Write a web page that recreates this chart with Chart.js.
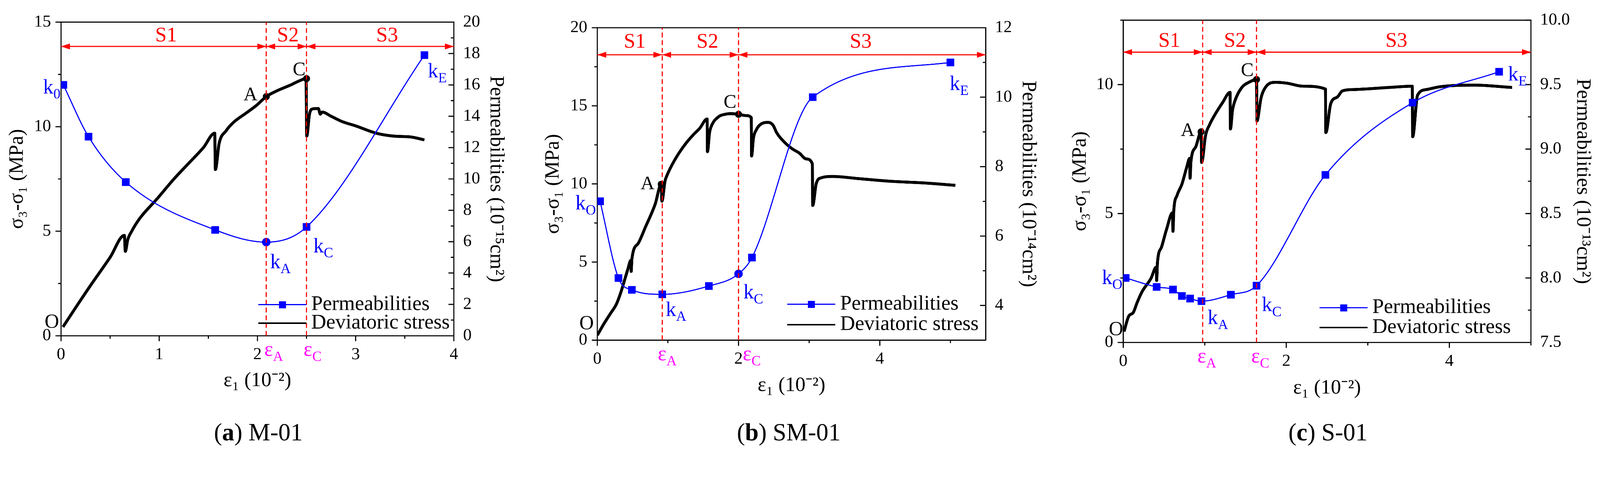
<!DOCTYPE html>
<html>
<head>
<meta charset="utf-8">
<title>Deviatoric stress and permeability</title>
<script src="https://cdn.jsdelivr.net/npm/chart.js@4.4.1/dist/chart.umd.min.js"></script>
<style>
  html, body { margin: 0; padding: 0; background: #fff; overflow: hidden; }
  #page { position: absolute; left: 0; top: 0; width: 4329px; height: 1236px; transform-origin: 0 0; }
  canvas { position: absolute; top: 0; }
  .cap { position: absolute; top: 1134px; width: 600px; text-align: center; color: #000;
         font: 66px "Liberation Serif", "Times New Roman", serif; line-height: 70px; }
</style>
</head>
<body>
<div id="page">
<canvas id="ca" width="1440" height="1236" style="left:0px"></canvas>
<canvas id="cb" width="1440" height="1236" style="left:1440px"></canvas>
<canvas id="cc" width="1449" height="1236" style="left:2880px"></canvas>
<div class="cap" style="left:399px">(<b>a</b>) M-01</div>
<div class="cap" style="left:1834px">(<b>b</b>) SM-01</div>
<div class="cap" style="left:3293px">(<b>c</b>) S-01</div>
</div>
<script>
const FONT = '"Liberation Serif", "Times New Roman", serif';
const BLUE = '#0000ff', RED = '#ff0000', MAGENTA = '#ff00ff';
Chart.defaults.font.family = FONT;
Chart.defaults.color = '#000';

// fit the 4329 x 1236 page into whatever viewport we get
const fit = Math.min(window.innerWidth / 4329, window.innerHeight / 1236);
document.getElementById('page').style.transform = 'scale(' + fit + ')';

// ---- (a) M-01 : strain (10^-2), permeability (10^-15 cm2), deviatoric stress (MPa)
const permStrainA = [0.024, 0.28, 0.66, 1.57, 2.09, 2.50, 3.70];
const permValueA = [16.0, 12.7, 9.8, 6.75, 5.97, 6.94, 17.9];
const stressA = [[0.02,0.42],[0.15,1.35],[0.3,2.4],[0.5,3.75],[0.645,4.8],[0.655,4.04],[0.68,4.6],
  [0.72,5.0],[0.8,5.6],[0.98,6.56],[1.15,7.5],[1.3,8.25],[1.45,9.0],[1.565,9.69],[1.572,7.95],
  [1.61,9.2],[1.68,9.8],[1.75,10.18],[1.89,10.67],[1.99,11.02],[2.09,11.44],[2.2,11.72],[2.34,12.0],
  [2.42,12.18],[2.495,12.3],[2.502,9.55],[2.53,10.6],[2.56,10.85],[2.62,10.87],[2.64,10.6],
  [2.66,10.7],[2.75,10.5],[2.86,10.25],[3.0,10.04],[3.21,9.69],[3.39,9.55],[3.56,9.51],[3.70,9.37]];
const peakA = [[2.09, 11.44], [2.50, 12.3]];
const stageA = [2.09, 2.50];

// ---- (b) SM-01 : permeability (10^-14 cm2)
const permStrainB = [0.04, 0.30, 0.49, 0.92, 1.58, 2.0, 2.19, 3.05, 5.0];
const permValueB = [7.0, 4.79, 4.45, 4.32, 4.56, 4.91, 5.38, 10.0, 11.0];
const stressB = [[0,0.31],[0.09,1.02],[0.19,1.73],[0.27,2.3],[0.335,3.08],[0.39,3.9],[0.43,4.5],
  [0.475,5.1],[0.48,4.4],[0.49,5.2],[0.58,6.2],[0.68,7.22],[0.82,8.71],[0.905,9.98],[0.915,8.9],
  [0.96,10.2],[0.99,10.58],[1.07,11.32],[1.16,12.0],[1.26,12.63],[1.36,13.15],[1.45,13.56],
  [1.555,14.16],[1.56,12.07],[1.59,13.3],[1.62,13.75],[1.72,14.31],[1.8,14.45],[1.89,14.5],
  [2.0,14.46],[2.1,14.38],[2.18,14.25],[2.185,11.79],[2.21,12.9],[2.25,13.45],[2.32,13.84],
  [2.42,13.94],[2.49,13.75],[2.54,13.28],[2.66,12.63],[2.76,12.25],[2.86,11.98],[2.96,11.6],
  [3.045,11.29],[3.05,8.62],[3.1,10.02],[3.17,10.39],[3.34,10.48],[3.68,10.35],[4.16,10.17],
  [4.65,10.06],[5.07,9.91]];
const peakB = [[0.905, 9.98], [2.0, 14.46]];
const stageB = [0.92, 2.0];

// ---- (c) S-01 : permeability (10^-13 cm2)
const permStrainC = [0.03, 0.41, 0.61, 0.72, 0.82, 0.96, 1.32, 1.635, 2.48, 3.55, 4.61];
const permValueC = [8.0, 7.93, 7.91, 7.86, 7.84, 7.82, 7.87, 7.94, 8.80, 9.36, 9.60];
const stressC = [[0.01,0.42],[0.065,1.0],[0.125,1.17],[0.17,1.54],[0.23,1.96],[0.34,2.48],
  [0.405,2.92],[0.41,2.4],[0.42,3.1],[0.47,3.7],[0.53,4.37],[0.605,5.03],[0.61,4.31],[0.62,5.1],
  [0.66,5.7],[0.72,6.14],[0.78,6.81],[0.815,7.14],[0.82,6.37],[0.83,7.0],[0.89,7.59],[0.955,8.17],
  [0.962,6.98],[1.01,8.03],[1.06,8.45],[1.12,8.81],[1.22,9.31],[1.31,9.7],[1.315,8.28],[1.34,9.0],
  [1.37,9.37],[1.45,9.87],[1.56,10.12],[1.635,10.2],[1.64,8.59],[1.69,9.48],[1.75,9.92],[1.87,10.09],
  [2.0,10.06],[2.21,9.94],[2.48,9.83],[2.485,8.14],[2.545,9.26],[2.63,9.53],[2.69,9.76],[2.84,9.81],
  [3.26,9.89],[3.545,9.94],[3.55,7.98],[3.61,9.59],[3.72,9.81],[3.89,9.92],[4.31,9.98],[4.77,9.89]];
const peakC = [[0.955, 8.17], [1.635, 10.2]];
const stageC = [0.975, 1.635];

const panels = [
  { id: 'ca', W: 1440, area: { left: 165, right: 1228, top: 60, bottom: 908 },
    x: { max: 4, step: 1, minor: 0.5 }, y: { max: 15, step: 5, minor: 2.5 },
    y1: { min: 0, max: 20, step: 2, minor: 1, dec: 0, exp: '⁻¹⁵' },
    pad: { left: 14, right: 65, bottom: 173 },
    permX: permStrainA, permK: permValueA, stress: stressA, peaks: peakA, stage: stageA, circle: 4,
    arrowY: 13.84, sY: 14.34, sX: [1.07, 2.31, 3.32], epsX: [2.07, 2.47],
    notes: [['k','0',-0.005,11.85,'right',BLUE,56], ['A','',2.0,11.5,'right','#000',52],
            ['C','',2.49,12.7,'right','#000',52], ['k','A',2.13,3.49,'left',BLUE,56],
            ['k','C',2.57,4.25,'left',BLUE,56], ['k','E',3.735,12.62,'left',BLUE,56],
            ['O','',-0.02,0.63,'right','#000',54]],
    legend: { dx: 529, r1: 84, r2: 34 } },
  { id: 'cb', W: 1440, area: { left: 176, right: 1227, top: 75, bottom: 920 },
    x: { max: 5.5, step: 2, minor: 1 }, y: { max: 20, step: 5, minor: 2.5 },
    y1: { min: 3, max: 12, step: 2, minor: 1, dec: 0, exp: '⁻¹⁴' },
    pad: { left: 24, right: 65, bottom: 160 },
    permX: permStrainB, permK: permValueB, stress: stressB, peaks: peakB, stage: stageB, circle: 5,
    arrowY: 18.27, sY: 19.07, sX: [0.53, 1.56, 3.73], epsX: [0.857, 2.06],
    notes: [['k','O',-0.02,8.71,'right',BLUE,56], ['A','',0.81,9.98,'right','#000',52],
            ['C','',1.97,15.2,'right','#000',52], ['k','A',0.97,1.9,'left',BLUE,56],
            ['k','C',2.07,3.02,'left',BLUE,56], ['k','E',4.99,16.36,'left',BLUE,56],
            ['O','',-0.05,1.03,'right','#000',54]],
    legend: { dx: 537, r1: 97, r2: 42 } },
  { id: 'cc', W: 1449, area: { left: 159, right: 1262, top: 38, bottom: 926 },
    x: { max: 5, step: 2, minor: 1 }, y: { max: 12.5, step: 5, minor: 2.5 },
    y1: { min: 7.5, max: 10, step: 0.5, minor: 0.25, dec: 1, exp: '⁻¹³' },
    pad: { left: 10, right: 14, bottom: 153 },
    permX: permStrainC, permK: permValueC, stress: stressC, peaks: peakC, stage: stageC, circle: -1,
    arrowY: 11.26, sY: 11.68, sX: [0.566, 1.37, 3.35], epsX: [0.91, 1.57],
    notes: [['k','O',-0.01,2.48,'right',BLUE,56], ['A','',0.876,8.2,'right','#000',52],
            ['C','',1.6,10.53,'right','#000',52], ['k','A',1.035,0.92,'left',BLUE,56],
            ['k','C',1.70,1.42,'left',BLUE,56], ['k','E',4.72,10.37,'left',BLUE,56],
            ['O','',0.0,0.48,'right','#000',54]],
    legend: { dx: 572, r1: 94, r2: 40 } }
];

const H = 1236;
const pairs = arr => arr.map(([x, y]) => ({ x, y }));
const zip = (xs, ys) => xs.map((x, i) => ({ x, y: ys[i] }));

// text with a subscript, y is the middle of the main glyphs
function subText(ctx, base, sub, x, y, size, color, align) {
  ctx.save();
  ctx.fillStyle = color;
  ctx.textBaseline = 'middle';
  ctx.textAlign = 'left';
  const small = Math.round(size * 0.68);
  ctx.font = size + 'px ' + FONT;
  const w1 = ctx.measureText(base).width;
  ctx.font = small + 'px ' + FONT;
  const w2 = sub ? ctx.measureText(sub).width : 0;
  let x0 = x;
  if (align === 'right') x0 = x - w1 - w2;
  if (align === 'center') x0 = x - (w1 + w2) / 2;
  ctx.font = size + 'px ' + FONT;
  ctx.fillText(base, x0, y);
  if (sub) {
    ctx.font = small + 'px ' + FONT;
    ctx.fillText(sub, x0 + w1, y + size * 0.32);
  }
  ctx.restore();
}

function tickMarks(ctx, scale, minor, side, ca) {
  const major = scale.ticks.map(t => t.value);
  ctx.beginPath();
  for (let i = 0; ; i++) {
    const v = +(scale.min + i * minor).toFixed(6);
    if (v > scale.max + 1e-9) break;
    const len = major.some(m => Math.abs(m - v) < 1e-6) ? 15 : 8;
    const p = scale.getPixelForValue(v);
    if (side === 'bottom') { ctx.moveTo(p, ca.bottom); ctx.lineTo(p, ca.bottom + len); }
    else if (side === 'left') { ctx.moveTo(ca.left, p); ctx.lineTo(ca.left - len, p); }
    else { ctx.moveTo(ca.right, p); ctx.lineTo(ca.right - len, p); }
  }
  ctx.stroke();
}

function head(ctx, x, y, dir) {
  ctx.beginPath();
  ctx.moveTo(x, y);
  ctx.lineTo(x - dir * 24, y - 8);
  ctx.lineTo(x - dir * 24, y + 8);
  ctx.closePath();
  ctx.fill();
}

const decor = {
  id: 'decor',
  afterDatasetsDraw(chart, args, o) {
    const p = o.panel;
    const ctx = chart.ctx, ca = chart.chartArea;
    const sx = chart.scales.x, sy = chart.scales.y, sr = chart.scales.y1;
    ctx.save();
    ctx.strokeStyle = '#000';
    ctx.lineWidth = 3;
    ctx.beginPath(); ctx.moveTo(ca.left - 1.5, ca.top); ctx.lineTo(ca.right + 1.5, ca.top); ctx.stroke();
    tickMarks(ctx, sx, p.x.minor, 'bottom', ca);
    tickMarks(ctx, sy, p.y.minor, 'left', ca);
    tickMarks(ctx, sr, p.y1.minor, 'right', ca);

    // stage boundaries
    const xs = p.stage.map(v => sx.getPixelForValue(v));
    ctx.strokeStyle = RED;
    ctx.setLineDash([13, 8]);
    xs.forEach(px => { ctx.beginPath(); ctx.moveTo(px, ca.bottom); ctx.lineTo(px, ca.top); ctx.stroke(); });
    ctx.setLineDash([]);

    // stage arrows S1 S2 S3
    const ay = sy.getPixelForValue(p.arrowY);
    const bounds = [ca.left, ...xs, ca.right];
    ctx.fillStyle = RED;
    for (let i = 0; i < 3; i++) {
      ctx.beginPath(); ctx.moveTo(bounds[i], ay); ctx.lineTo(bounds[i + 1], ay); ctx.stroke();
      head(ctx, bounds[i], ay, -1);
      head(ctx, bounds[i + 1], ay, 1);
      subText(ctx, 'S' + (i + 1), '', sx.getPixelForValue(p.sX[i]), sy.getPixelForValue(p.sY), 56, RED, 'center');
    }

    // point labels
    p.notes.forEach(([b, s, x, y, al, col, size]) =>
      subText(ctx, b, s, sx.getPixelForValue(x), sy.getPixelForValue(y), size, col, al));

    // strain markers under the axis
    subText(ctx, 'ε', 'A', sx.getPixelForValue(p.epsX[0]), ca.bottom + 40, 56, MAGENTA, 'left');
    subText(ctx, 'ε', 'C', sx.getPixelForValue(p.epsX[1]), ca.bottom + 40, 56, MAGENTA, 'left');

    // legend
    const lx = ca.right - p.legend.dx, y1 = ca.bottom - p.legend.r1, y2 = ca.bottom - p.legend.r2;
    ctx.strokeStyle = BLUE; ctx.lineWidth = 3;
    ctx.beginPath(); ctx.moveTo(lx, y1); ctx.lineTo(lx + 130, y1); ctx.stroke();
    ctx.fillStyle = BLUE; ctx.fillRect(lx + 65 - 9, y1 - 9, 19, 19);
    ctx.strokeStyle = '#000'; ctx.lineWidth = 4;
    ctx.beginPath(); ctx.moveTo(lx, y2); ctx.lineTo(lx + 130, y2); ctx.stroke();
    subText(ctx, 'Permeabilities', '', lx + 143, y1, 56, '#000', 'left');
    subText(ctx, 'Deviatoric stress', '', lx + 143, y2, 56, '#000', 'left');
    ctx.restore();
  }
};

function axisTitle(text, pad) {
  return { display: true, text, color: '#000', font: { size: 55, family: FONT }, padding: pad };
}

function makeChart(p) {
  new Chart(document.getElementById(p.id), {
    type: 'line',
    data: {
      datasets: [
        { label: 'Points', data: pairs(p.peaks), yAxisID: 'y', showLine: false,
          pointRadius: 9, pointBackgroundColor: '#000', pointBorderColor: '#000', order: 0 },
        { label: 'Permeabilities', data: zip(p.permX, p.permK), yAxisID: 'y1',
          borderColor: BLUE, backgroundColor: BLUE, borderWidth: 3, cubicInterpolationMode: 'monotone',
          pointStyle: c => c.dataIndex === p.circle ? 'circle' : 'rect',
          pointRadius: c => c.dataIndex === p.circle ? 10 : 12.5,
          pointBackgroundColor: BLUE, pointBorderColor: BLUE, order: 1 },
        { label: 'Deviatoric stress', data: pairs(p.stress), yAxisID: 'y',
          borderColor: '#000', borderWidth: 8, pointRadius: 0, cubicInterpolationMode: 'monotone',
          borderJoinStyle: 'round', order: 2 }
      ]
    },
    options: {
      responsive: false,
      animation: false,
      devicePixelRatio: 2,
      layout: { padding: { top: p.area.top, left: 0, right: 0, bottom: 0 } },
      plugins: { legend: { display: false }, tooltip: { enabled: false }, decor: { panel: p } },
      scales: {
        x: {
          type: 'linear', position: 'bottom', min: 0, max: p.x.max,
          afterFit: s => { s.height = H - p.area.bottom; },
          grid: { display: false, drawTicks: false },
          border: { display: true, color: '#000', width: 3 },
          ticks: { stepSize: p.x.step, includeBounds: false, padding: 24, maxRotation: 0, autoSkip: false,
                   color: '#000', font: { size: 46 } },
          title: axisTitle('ε₁ (10⁻²)', { top: 0, bottom: p.pad.bottom })
        },
        y: {
          type: 'linear', position: 'left', min: 0, max: p.y.max,
          afterFit: s => { s.width = p.area.left; },
          grid: { display: false, drawTicks: false },
          border: { display: true, color: '#000', width: 3 },
          ticks: { stepSize: p.y.step, includeBounds: false, padding: 27, autoSkip: false,
                   color: '#000', font: { size: 46 } },
          title: axisTitle('σ₃-σ₁ (MPa)', { top: p.pad.left, bottom: 0 })
        },
        y1: {
          type: 'linear', position: 'right', min: p.y1.min, max: p.y1.max,
          afterFit: s => { s.width = p.W - p.area.right; },
          grid: { display: false, drawTicks: false },
          border: { display: true, color: '#000', width: 3 },
          ticks: { stepSize: p.y1.step, includeBounds: false, padding: 25, autoSkip: false,
                   color: '#000', font: { size: 46 }, callback: v => v.toFixed(p.y1.dec) },
          title: axisTitle('Permeabilities (10' + p.y1.exp + 'cm²)', { top: p.pad.right, bottom: 0 })
        }
      }
    },
    plugins: [decor]
  });
}

document.fonts.load('46px "Liberation Serif"').finally(() => panels.forEach(makeChart));
</script>
</body>
</html>
